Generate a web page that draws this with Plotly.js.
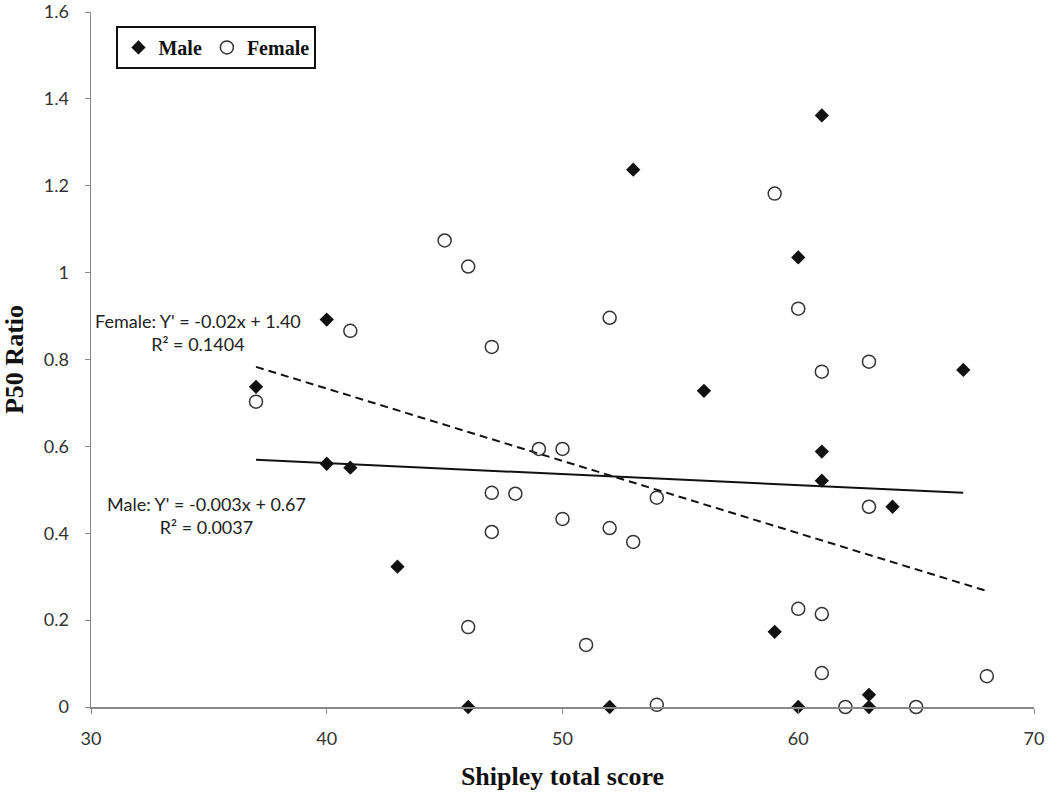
<!DOCTYPE html>
<html>
<head>
<meta charset="utf-8">
<script src="https://cdn.plot.ly/plotly-3.0.1.min.js"></script>
<style>html,body{margin:0;padding:0;background:#fff;}#chart{width:1050px;height:796px;}</style>
</head>
<body>
<div id="chart"></div>
<script>
// Male data (Shipley total score, P50 ratio)
var maleX = [37, 40, 40, 41, 43, 46, 52, 53, 56, 59, 60, 60, 61, 61, 61, 63, 63, 64, 67];
var maleY = [0.737, 0.892, 0.560, 0.551, 0.323, 0.0, 0.0, 1.237, 0.728, 0.173, 1.035, 0.0, 1.362, 0.588, 0.521, 0.028, 0.0, 0.461, 0.776];
// Female data
var femaleX = [37, 41, 45, 46, 46, 47, 47, 47, 48, 49, 50, 50, 51, 52, 52, 53, 54, 54, 59, 60, 60, 61, 61, 61, 62, 63, 63, 65, 68];
var femaleY = [0.703, 0.866, 1.074, 1.014, 0.184, 0.829, 0.493, 0.403, 0.491, 0.594, 0.594, 0.433, 0.143, 0.896, 0.412, 0.380, 0.482, 0.005, 1.182, 0.917, 0.226, 0.772, 0.214, 0.078, 0.0, 0.795, 0.461, 0.0, 0.071];
// Trend lines (endpoints)
var maleTrendX = [37, 67];
var maleTrendY = [0.569, 0.493];
var femaleTrendX = [37, 68];
var femaleTrendY = [0.783, 0.267];
var femaleEq = "Female: Y' = -0.02x + 1.40<br>R² = 0.1404";
var maleEq = "Male: Y' = -0.003x + 0.67<br>R² = 0.0037";
var xTicks = [30, 40, 50, 60, 70];
var yTicks = [0, 0.2, 0.4, 0.6, 0.8, 1, 1.2, 1.4, 1.6];
var yTickText = ["0", "0.2", "0.4", "0.6", "0.8", "1", "1.2", "1.4", "1.6"];

var traces = [
  {x: maleTrendX, y: maleTrendY, mode: 'lines', showlegend: false, hoverinfo: 'skip',
   line: {color: '#111', width: 2}},
  {x: femaleTrendX, y: femaleTrendY, mode: 'lines', showlegend: false, hoverinfo: 'skip',
   line: {color: '#111', width: 2, dash: '8px,5px'}},
  {x: maleX, y: maleY, mode: 'markers', name: '<b>Male</b>', cliponaxis: false,
   marker: {symbol: 'diamond', size: 11, color: '#111', line: {width: 0}}},
  {x: femaleX, y: femaleY, mode: 'markers', name: '<b>Female</b>', cliponaxis: false,
   marker: {symbol: 'circle-open', size: 13, color: '#333', line: {width: 1.5, color: '#333'}}}
];

var tickFont = {family: 'Lato, "Liberation Sans", sans-serif', size: 18, color: '#333'};
var serif = '"Liberation Serif", "Times New Roman", serif';
var layout = {
  width: 1050, height: 796,
  margin: {l: 91, r: 16, t: 12, b: 89},
  paper_bgcolor: '#fff', plot_bgcolor: '#fff',
  showlegend: true,
  legend: {orientation: 'h', x: 0.027, y: 0.98, xanchor: 'left', yanchor: 'top',
    bordercolor: '#111', borderwidth: 2, bgcolor: '#fff',
    font: {family: serif, size: 20, color: '#111'},
    itemwidth: 30, tracegroupgap: 0},
  xaxis: {range: [30, 70], tickvals: xTicks, ticktext: xTicks.map(String), showgrid: false, zeroline: false,
    showline: true, linecolor: '#888', linewidth: 1.5, ticks: 'outside', ticklen: 5, tickcolor: '#888',
    tickfont: tickFont, ticklabelstandoff: 10,
    title: {text: '<b>Shipley total score</b>', standoff: 18,
      font: {family: serif, size: 26, color: '#111'}}},
  yaxis: {range: [0, 1.6], tickvals: yTicks, ticktext: yTickText, showgrid: false, zeroline: false,
    showline: true, linecolor: '#888', linewidth: 1.5, ticks: 'outside', ticklen: 5, tickcolor: '#888',
    tickfont: tickFont, ticklabelstandoff: 12,
    title: {text: '<b>P50 Ratio</b>', standoff: 14,
      font: {family: serif, size: 26, color: '#111'}}},
  annotations: [
    {x: 34.53, y: 0.862, xref: 'x', yref: 'y', text: femaleEq, showarrow: false, align: 'center',
     font: {family: 'Lato, "Liberation Sans", sans-serif', size: 18, color: '#222'}},
    {x: 34.92, y: 0.442, xref: 'x', yref: 'y', text: maleEq, showarrow: false, align: 'center',
     font: {family: 'Lato, "Liberation Sans", sans-serif', size: 18, color: '#222'}}
  ]
};
Plotly.newPlot('chart', traces, layout, {displayModeBar: false, staticPlot: true});
</script>
</body>
</html>
